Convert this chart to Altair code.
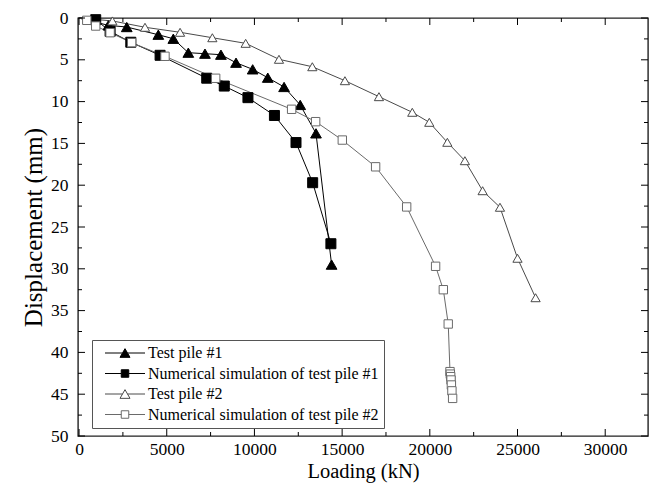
import altair as alt
import pandas as pd

FONT = "Liberation Serif"

series_names = [
    "Test pile #1",
    "Numerical simulation of test pile #1",
    "Test pile #2",
    "Numerical simulation of test pile #2",
]

# Test pile #1 (filled triangles)
tp1_load = [0, 1670, 2720, 4520, 5375, 6230, 7180, 8090, 8950, 9900, 10760, 11690, 12610, 13510, 14400]
tp1_disp = [0, 0.88, 1.08, 2.0, 2.48, 4.15, 4.27, 4.39, 5.35, 6.14, 7.14, 8.25, 10.4, 13.8, 29.5]

# Numerical simulation of test pile #1 (filled squares)
sim1_load = [0, 950, 1770, 2950, 4620, 7280, 8280, 9630, 11140, 12370, 13320, 14360]
sim1_disp = [0, 0.2, 1.6, 2.9, 4.46, 7.2, 8.14, 9.53, 11.66, 14.9, 19.7, 27.0]

# Test pile #2 (open triangles)
tp2_load = [0, 1900, 3760, 5760, 7600, 9500, 11400, 13300, 15160, 17100, 19000, 19970, 21000, 22000, 23010, 24000, 25000, 26030]
tp2_disp = [0, 0.35, 1.11, 1.71, 2.36, 3.03, 4.94, 5.83, 7.5, 9.41, 11.28, 12.48, 14.87, 17.07, 20.66, 22.64, 28.74, 33.46]

# Numerical simulation of test pile #2 (open squares)
sim2_load = [0, 440, 950, 1770, 3000, 4900, 7790, 12120, 13490, 15010, 16910, 18680, 20330, 20770, 21050,
             21150, 21170, 21190, 21210, 21230, 21260, 21300]
sim2_disp = [0, 0.28, 0.96, 1.76, 2.95, 4.58, 7.21, 10.92, 12.4, 14.6, 17.8, 22.6, 29.7, 32.5, 36.6,
             42.3, 42.6, 42.9, 43.3, 43.9, 44.6, 45.5]

x_major = [0, 5000, 10000, 15000, 20000, 25000, 30000]
x_minor = [2500, 7500, 12500, 17500, 22500, 27500]
y_major = [0, 5, 10, 15, 20, 25, 30, 35, 40, 45, 50]
y_minor = [2.5, 7.5, 12.5, 17.5, 22.5, 27.5, 32.5, 37.5, 42.5, 47.5]

line_colors = ["#000000", "#000000", "#4a4a4a", "#6a6a6a"]
fill_colors = ["#000000", "#000000", "#ffffff", "#ffffff"]
stroke_colors = ["#000000", "#000000", "#4a4a4a", "#6a6a6a"]
point_shapes = ["triangle-up", "square", "triangle-up", "square"]
point_sizes = [115, 70, 115, 62]
legend_shapes = [
    "M-4,0H-0.5M0.5,0H4M0,-0.87L-1,0.87L1,0.87Z",
    "M-4,0H-0.75M0.75,0H4M-0.75,-0.75H0.75V0.75H-0.75Z",
    "M-4,0H-0.5M0.5,0H4M0,-0.87L-1,0.87L1,0.87Z",
    "M-4,0H-0.75M0.75,0H4M-0.75,-0.75H0.75V0.75H-0.75Z",
]

rows = []
for name, loads, disps in zip(series_names,
                              [tp1_load, sim1_load, tp2_load, sim2_load],
                              [tp1_disp, sim1_disp, tp2_disp, sim2_disp]):
    for i, (l, d) in enumerate(zip(loads, disps)):
        rows.append({"series": name, "entry": name, "load": l, "disp": d, "idx": i})
df = pd.DataFrame(rows)
df_pts = df[df["idx"] > 0]

W, H = 570, 418
xs = alt.Scale(domain=[-60, 32440], nice=False, zero=False)
ys = alt.Scale(domain=[0, 50], reverse=True, nice=False, zero=False)

x_axis = alt.Axis(values=x_major, format="d", ticks=False, tickSize=0, domain=False, grid=False,
                  labelFont=FONT, labelFontSize=17.5, labelColor="black", labelPadding=4,
                  labelFlush=False, labelOverlap=False,
                  titleFont=FONT, titleFontSize=20.5, titleFontWeight="normal", titleColor="black",
                  titlePadding=4)
y_axis = alt.Axis(values=y_major, format="d", ticks=False, tickSize=0, domain=False, grid=False,
                  labelFont=FONT, labelFontSize=17.5, labelColor="black", labelPadding=10,
                  labelFlush=False, labelOverlap=False,
                  titleFont=FONT, titleFontSize=25, titleFontWeight="normal", titleColor="black",
                  titlePadding=4)


def X():
    return alt.X("load:Q", scale=xs, axis=x_axis, title="Loading (kN)")


def Y():
    return alt.Y("disp:Q", scale=ys, axis=y_axis, title="Displacement (mm)")


lines = alt.Chart(df).mark_line(strokeWidth=1).encode(
    x=X(), y=Y(),
    color=alt.Color("series:N", scale=alt.Scale(domain=series_names, range=line_colors), legend=None),
    order="idx:Q",
)

points = alt.Chart(df_pts).mark_point(filled=True, opacity=1, strokeWidth=1).encode(
    x=X(), y=Y(),
    shape=alt.Shape("series:N", scale=alt.Scale(domain=series_names, range=point_shapes), legend=None),
    fill=alt.Fill("series:N", scale=alt.Scale(domain=series_names, range=fill_colors), legend=None),
    stroke=alt.Stroke("series:N", scale=alt.Scale(domain=series_names, range=stroke_colors), legend=None),
    size=alt.Size("series:N", scale=alt.Scale(domain=series_names, range=point_sizes), legend=None),
)

leg = alt.Legend(orient="none", legendX=14, legendY=322, title=None, direction="vertical",
                 labelFont=FONT, labelFontSize=16, labelColor="black", labelLimit=500,
                 symbolSize=100, symbolStrokeWidth=1, symbolOpacity=1,
                 symbolOffset=20, labelOffset=15, padding=5, rowPadding=4.5,
                 strokeColor="#555555", fillColor="white")

legend_layer = alt.Chart(df_pts).mark_point(filled=True, opacity=0).encode(
    x=X(), y=Y(),
    shape=alt.Shape("entry:N", scale=alt.Scale(domain=series_names, range=legend_shapes), legend=leg),
    fill=alt.Fill("entry:N", scale=alt.Scale(domain=series_names, range=fill_colors), legend=leg),
    stroke=alt.Stroke("entry:N", scale=alt.Scale(domain=series_names, range=stroke_colors), legend=leg),
)

xmaj = pd.DataFrame({"load": x_major})
xmin = pd.DataFrame({"load": x_minor})
ymaj = pd.DataFrame({"disp": y_major})
ymin = pd.DataFrame({"disp": y_minor})

tick_layers = [
    alt.Chart(xmaj).mark_rule(color="black", strokeWidth=1).encode(x=X(), y=alt.value(0), y2=alt.value(7)),
    alt.Chart(xmaj).mark_rule(color="black", strokeWidth=1).encode(x=X(), y=alt.value(H), y2=alt.value(H - 7)),
    alt.Chart(xmin).mark_rule(color="black", strokeWidth=1).encode(x=X(), y=alt.value(0), y2=alt.value(4)),
    alt.Chart(xmin).mark_rule(color="black", strokeWidth=1).encode(x=X(), y=alt.value(H), y2=alt.value(H - 4)),
    alt.Chart(ymaj).mark_rule(color="black", strokeWidth=1).encode(y=Y(), x=alt.value(0), x2=alt.value(7)),
    alt.Chart(ymaj).mark_rule(color="black", strokeWidth=1).encode(y=Y(), x=alt.value(W), x2=alt.value(W - 7)),
    alt.Chart(ymin).mark_rule(color="black", strokeWidth=1).encode(y=Y(), x=alt.value(0), x2=alt.value(4)),
    alt.Chart(ymin).mark_rule(color="black", strokeWidth=1).encode(y=Y(), x=alt.value(W), x2=alt.value(W - 4)),
]

chart = alt.layer(lines, points, legend_layer, *tick_layers).resolve_scale(
    shape="independent", fill="independent", stroke="independent"
).properties(
    width=W, height=H,
    autosize=alt.AutoSizeParams(type="none"),
    padding={"left": 70, "top": 10, "right": 3, "bottom": 50},
    background="white",
).configure_view(stroke="#222222", strokeWidth=1.4)

chart.save("out.html", embed_options={"renderer": "svg", "actions": False})
